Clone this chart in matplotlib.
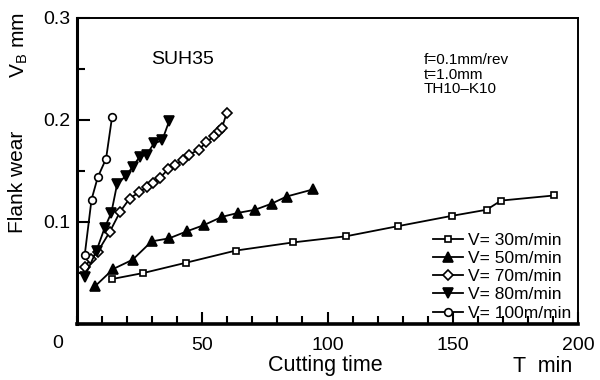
import matplotlib
matplotlib.use("Agg")
import matplotlib.pyplot as plt
from matplotlib.ticker import MultipleLocator

plt.rcParams['font.family'] = ['Liberation Sans', 'DejaVu Sans']

# V = 30 m/min (squares)
t30 = [13.8, 26.5, 43.4, 63.4, 86.3, 107.4, 128.3, 149.6, 163.5, 169.3, 190.4]
w30 = [0.044, 0.050, 0.060, 0.072, 0.080, 0.086, 0.096, 0.106, 0.112, 0.121, 0.126]
# V = 50 m/min (up triangles)
t50 = [7.2, 14.5, 22.2, 29.8, 36.8, 44.0, 50.7, 57.8, 64.4, 71.1, 77.7, 83.7, 94.3]
w50 = [0.037, 0.054, 0.063, 0.081, 0.084, 0.091, 0.097, 0.105, 0.109, 0.112, 0.118, 0.125, 0.132]
# V = 70 m/min (diamonds)
t70 = [3.0, 5.7, 8.3, 13.0, 17.2, 21.0, 24.7, 27.8, 30.4, 33.0, 36.5, 39.3, 42.2,
       44.8, 48.6, 51.6, 54.5, 56.5, 57.8, 59.8]
w70 = [0.056, 0.064, 0.071, 0.090, 0.110, 0.123, 0.129, 0.134, 0.138, 0.143, 0.152,
       0.156, 0.161, 0.166, 0.171, 0.178, 0.184, 0.189, 0.192, 0.207]
# V = 80 m/min (down triangles)
t80 = [3.0, 7.8, 11.0, 13.7, 16.0, 19.4, 22.2, 25.0, 27.8, 30.7, 34.0, 36.8]
w80 = [0.046, 0.072, 0.094, 0.109, 0.137, 0.145, 0.154, 0.164, 0.166, 0.177, 0.180, 0.199]
# V = 100 m/min (circles)
t100 = [3.1, 5.8, 8.3, 11.6, 14.0]
w100 = [0.068, 0.122, 0.144, 0.162, 0.203]

labels = ["V= 30m/min", "V= 50m/min", "V= 70m/min", "V= 80m/min", "V= 100m/min"]

fig = plt.figure(figsize=(6, 3.8), dpi=100)
ax = fig.add_axes([77/600, 1-324/380, (578-77)/600, (324-18)/380])

ms = 5.5
kw = dict(color='black', lw=1.3, markeredgewidth=1.2)
ax.plot(t30, w30, marker='s', mfc='white', ms=ms-0.5, label=labels[0], **kw)
ax.plot(t50, w50, marker='^', mfc='black', ms=ms+1, label=labels[1], **kw)
ax.plot(t70, w70, marker='D', mfc='white', ms=ms-0.5, label=labels[2], **kw)
ax.plot(t80, w80, marker='v', mfc='black', ms=ms+1, label=labels[3], **kw)
ax.plot(t100, w100, marker='o', mfc='white', ms=ms, label=labels[4], **kw)

ax.set_xlim(0, 200)
ax.set_ylim(0, 0.3)
ax.xaxis.set_major_locator(MultipleLocator(50))
ax.xaxis.set_minor_locator(MultipleLocator(10))
ax.yaxis.set_major_locator(MultipleLocator(0.1))
ax.yaxis.set_minor_locator(MultipleLocator(0.05))
ax.tick_params(which='both', direction='in', top=False, right=False, width=1.5)
ax.tick_params(which='major', length=9, labelsize=14, pad=9)
ax.tick_params(which='minor', length=6)
ax.set_xticks([50, 100, 150, 200])
ax.set_xticklabels(['50', '100', '150', '200'])
ax.set_yticks([0.1, 0.2, 0.3])
ax.set_yticklabels(['0.1', '0.2', '0.3'])
ax.tick_params(axis='y', pad=5)

ax.spines['left'].set_linewidth(2.2)
ax.spines['bottom'].set_linewidth(2.6)
ax.spines['top'].set_linewidth(1.4)
ax.spines['right'].set_linewidth(1.4)

fig.text(58/600, 1-343/380, '0', fontsize=14, ha='center', va='center')
fig.text(325/600, 1-366/380, 'Cutting time', fontsize=15.5, ha='center', va='center')
fig.text(543/600, 1-366/380, 'T  min', fontsize=15.5, ha='center', va='center')
fig.text(18/600, 1-182/380, 'Flank wear', fontsize=15, rotation=90, ha='center', va='center')
fig.text(19/600, 1-45/380, r'V$_{\mathregular{B}}$ mm', fontsize=15, rotation=90, ha='center', va='center')

ax.text((183-77)/501, (324-59)/306, 'SUH35', fontsize=14, ha='center', va='center',
        transform=ax.transAxes)
ax.text((424-77)/501, (324-53)/306, 'f=0.1mm/rev\nt=1.0mm\nTH10\u2013K10', fontsize=11,
        ha='left', va='top', transform=ax.transAxes, linespacing=1.05)

leg = ax.legend(loc='lower right', frameon=False, fontsize=12.5, handlelength=1.7,
                handletextpad=0.3, labelspacing=0.18, borderaxespad=0.0,
                bbox_to_anchor=(1.0, -0.012))

fig.savefig('out.png', dpi=100)
